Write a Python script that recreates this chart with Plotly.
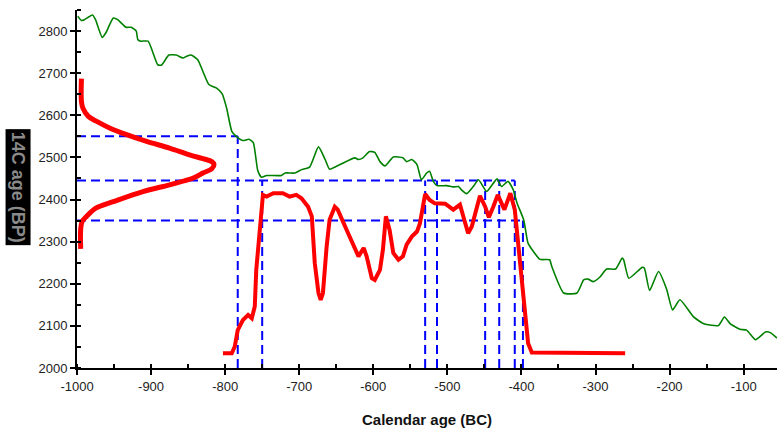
import plotly.graph_objects as go

# Calibration curve (green)
cal_x = [-999, -994, -990, -979, -975, -966, -961, -951, -945, -934, -927, -920, -918, -914, -904,
         -891, -886, -876, -866, -857, -852, -846, -837, -830, -822, -812, -804, -798, -791, -785,
         -776, -768, -762, -756, -751, -744, -724, -719, -706, -697, -686, -674, -665, -659, -645,
         -625, -620, -614, -605, -598, -591, -584, -573, -560, -555, -548, -541, -535, -528, -524,
         -519, -514, -501, -492, -485, -481, -474, -465, -458, -447, -433, -427, -418, -411, -406,
         -397, -393, -391, -375, -362, -359, -343, -325, -316, -310, -303, -294, -285, -273, -264,
         -262, -255, -237, -234, -227, -215, -204, -196, -186, -168, -154, -134, -126, -118, -105,
         -96, -84, -70, -64, -55]
cal_y = [2835, 2825, 2827, 2838, 2827, 2785, 2796, 2831, 2827, 2809, 2809, 2800, 2780, 2776, 2776,
         2720, 2719, 2743, 2743, 2736, 2740, 2743, 2732, 2704, 2673, 2665, 2651, 2617, 2562, 2550,
         2540, 2543, 2535, 2469, 2453, 2457, 2457, 2463, 2463, 2471, 2477, 2525, 2495, 2472, 2483,
         2499, 2495, 2499, 2514, 2512, 2490, 2480, 2501, 2499, 2490, 2495, 2483, 2447, 2463, 2467,
         2443, 2433, 2433, 2430, 2431, 2423, 2414, 2431, 2447, 2419, 2449, 2431, 2443, 2423, 2392,
         2352, 2312, 2296, 2258, 2257, 2241, 2178, 2178, 2209, 2211, 2205, 2216, 2235, 2235, 2261,
         2257, 2213, 2239, 2237, 2184, 2229, 2187, 2138, 2162, 2122, 2105, 2101, 2121, 2105, 2092,
         2090, 2067, 2086, 2084, 2071]

# Radiocarbon date distribution (red, along y axis)
dist_x = [-995, -995, -993, -987, -974, -951, -911, -875, -843, -830, -818, -815, -818, -830,
          -848, -875, -906, -933, -956, -974, -985, -992, -994, -994]
dist_y = [2283, 2330, 2348, 2360, 2380, 2395, 2419, 2435, 2451, 2463, 2473, 2483, 2490, 2497,
          2506, 2522, 2538, 2554, 2570, 2586, 2598, 2617, 2633, 2687]

# Calibrated curve (red)
calib_x = [-803, -791, -787, -783, -776, -769, -764, -760, -758, -753, -751, -749, -744, -735,
           -722, -713, -704, -697, -688, -683, -679, -674, -671, -668, -663, -659, -652, -648,
           -634, -620, -613, -609, -602, -598, -591, -587, -583, -578, -573, -566, -560, -555,
           -548, -541, -537, -530, -524, -517, -503, -492, -483, -472, -467, -456, -449, -444,
           -438, -432, -423, -415, -409, -404, -397, -391, -386, -294, -260]
calib_y = [2035, 2035, 2051, 2090, 2114, 2126, 2118, 2146, 2233, 2344, 2376, 2411, 2407, 2415,
           2415, 2407, 2411, 2403, 2383, 2360, 2249, 2178, 2162, 2178, 2288, 2352, 2383, 2376,
           2320, 2265, 2285, 2265, 2213, 2209, 2233, 2281, 2360, 2328, 2273, 2257, 2265, 2293,
           2312, 2324, 2344, 2413, 2399, 2391, 2390, 2376, 2388, 2320, 2336, 2409, 2383, 2358,
           2383, 2411, 2376, 2415, 2376, 2288, 2170, 2059, 2037, 2037, 2035]

# Guide lines (blue dashed)
h_levels = [2550, 2445, 2350]
h_ends = [-783, -409, -398]
v_positions = [-783, -750, -530, -514, -449, -430, -409, -398]
v_tops = [2550, 2445, 2445, 2445, 2445, 2445, 2445, 2350]

# Tick labels
x_tickvals = [-1000, -900, -800, -700, -600, -500, -400, -300, -200, -100]
x_ticktext = ["-1000", "-900", "-800", "-700", "-600", "-500", "-400", "-300", "-200", "-100"]
y_tickvals = [2000, 2100, 2200, 2300, 2400, 2500, 2600, 2700, 2800]

X_MIN, Y_MIN = -1000, 2000

fig = go.Figure()

gx, gy = [], []
for lvl, end in zip(h_levels, h_ends):
    gx += [X_MIN, end, None]
    gy += [lvl, lvl, None]
for pos, top in zip(v_positions, v_tops):
    gx += [pos, pos, None]
    gy += [Y_MIN, top, None]
fig.add_trace(go.Scatter(x=gx, y=gy, mode="lines",
                         line=dict(color="#0000ff", width=2, dash="9px,5px"),
                         hoverinfo="skip", showlegend=False))

fig.add_trace(go.Scatter(x=cal_x, y=cal_y, mode="lines",
                         line=dict(color="#008000", width=1.6, shape="spline", smoothing=0.5),
                         showlegend=False))
fig.add_trace(go.Scatter(x=dist_x, y=dist_y, mode="lines",
                         line=dict(color="#ff0000", width=5, shape="spline"), showlegend=False))
fig.add_trace(go.Scatter(x=calib_x, y=calib_y, mode="lines",
                         line=dict(color="#ff0000", width=4), showlegend=False))

axis_font = dict(family="Arial, Liberation Sans, sans-serif", size=13, color="#222")

fig.update_xaxes(range=[-1000, -55], tickmode="array", tickvals=x_tickvals, ticktext=x_ticktext,
                 automargin=False,
                 showgrid=False, zeroline=False, showline=True, linecolor="black", linewidth=2,
                 ticks="outside", ticklen=5, tickwidth=2, tickcolor="black",
                 minor=dict(ticks="inside", dtick=50, tick0=-1000, ticklen=4, tickwidth=2,
                            tickcolor="black", showgrid=False),
                 tickfont=axis_font,
                 title=dict(text="Calendar age (BC)", standoff=22,
                            font=dict(family="Arial, Liberation Sans, sans-serif", size=15,
                                      color="#111", weight="bold")))
fig.update_yaxes(range=[2000, 2850], tickmode="array", tickvals=y_tickvals,
                 automargin=False,
                 showgrid=False, zeroline=False, showline=True, linecolor="black", linewidth=2,
                 ticks="outside", ticklen=5, tickwidth=2, tickcolor="black",
                 minor=dict(ticks="inside", dtick=50, tick0=2000, ticklen=4, tickwidth=2,
                            tickcolor="black", showgrid=False),
                 tickfont=axis_font)

fig.add_annotation(text="14C age (BP)", xref="paper", yref="paper",
                   x=-0.084, y=0.506, xanchor="center", yanchor="middle",
                   textangle=90, showarrow=False,
                   bgcolor="black", borderpad=2,
                   font=dict(family="Arial, Liberation Sans, sans-serif", size=18,
                             color="#8a8a8a", weight="bold"))

fig.update_layout(width=777, height=431, margin=dict(l=77, r=0, t=10, b=63),
                  paper_bgcolor="white", plot_bgcolor="white", showlegend=False)

fig.write_html("out.html", config={"displayModeBar": False},
               post_script="document.body.style.margin='0';document.body.style.padding='0';")
